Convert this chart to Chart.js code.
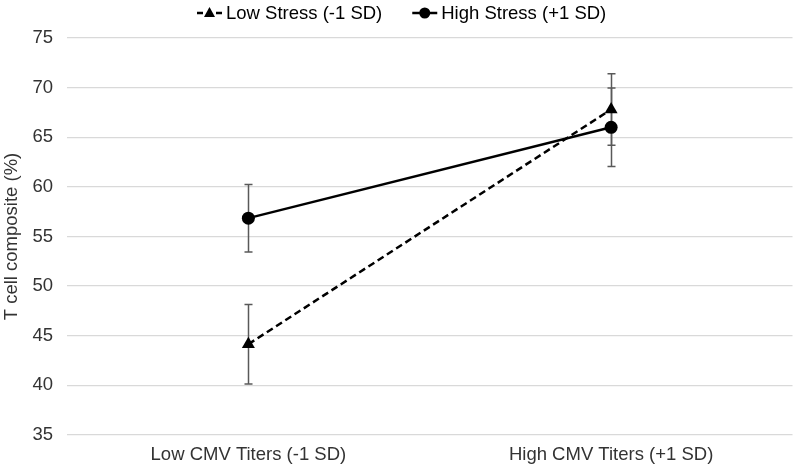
<!DOCTYPE html>
<html>
<head>
<meta charset="utf-8">
<script src="https://cdn.jsdelivr.net/npm/chart.js@4.4.1/dist/chart.umd.min.js"></script>
<style>
  html, body { margin: 0; padding: 0; background: #fff; }
  #wrap { width: 800px; height: 470px; }
</style>
</head>
<body>
<div id="wrap"><canvas id="chart"></canvas></div>
<script>
// data
const categories = ['Low CMV Titers (-1 SD)', 'High CMV Titers (+1 SD)'];
const lowStress = [44.15, 67.8];
const lowStressErr = [4.0, 3.6];
const highStress = [56.85, 66.0];
const highStressErr = [3.4, 3.95];
const yTicks = [35, 40, 45, 50, 55, 60, 65, 70, 75];

const FONT = '"Liberation Sans", Arial, sans-serif';
const FSIZE = 18.5;

// error bars, drawn before the lines so the markers sit on top
const errorBars = {
    id: 'errorBars',
    beforeDatasetsDraw(chart) {
        const ctx = chart.ctx;
        const y = chart.scales.y;
        ctx.save();
        ctx.strokeStyle = '#595959';
        ctx.lineWidth = 1.5;
        chart.data.datasets.forEach((ds, i) => {
            const meta = chart.getDatasetMeta(i);
            ds.errors.forEach((e, j) => {
                const px = Math.round(meta.data[j].x) + 0.5;
                const top = y.getPixelForValue(ds.data[j] + e);
                const bot = y.getPixelForValue(ds.data[j] - e);
                ctx.beginPath();
                ctx.moveTo(px, top); ctx.lineTo(px, bot);
                ctx.moveTo(px - 4, top); ctx.lineTo(px + 4, top);
                ctx.moveTo(px - 4, bot); ctx.lineTo(px + 4, bot);
                ctx.stroke();
            });
        });
        ctx.restore();
    }
};

// legend on top: line segment with marker, then the series name
const lineLegend = {
    id: 'lineLegend',
    afterDraw(chart) {
        const ctx = chart.ctx;
        const iconW = 25, gapText = 4, gapItem = 30, cy = 13;
        ctx.save();
        ctx.font = FSIZE + 'px ' + FONT;
        const items = chart.data.datasets.map(ds => ({ ds, w: ctx.measureText(ds.label).width }));
        let total = 0;
        items.forEach((it, i) => { total += iconW + gapText + it.w + (i ? gapItem : 0); });
        let x = Math.round(chart.width / 2 - total / 2) + 2;
        items.forEach((it, i) => {
            if (i) x += gapItem;
            const ds = it.ds;
            ctx.strokeStyle = '#000';
            ctx.lineWidth = 2.5;
            ctx.beginPath();
            if (ds.borderDash) {
                ctx.moveTo(x, cy); ctx.lineTo(x + 6, cy);
                ctx.moveTo(x + iconW - 6, cy); ctx.lineTo(x + iconW, cy);
            } else {
                ctx.moveTo(x, cy); ctx.lineTo(x + iconW, cy);
            }
            ctx.stroke();
            ctx.fillStyle = '#000';
            ctx.beginPath();
            const mx = x + iconW / 2;
            if (ds.pointStyle === 'triangle') {
                ctx.moveTo(mx, cy - 6); ctx.lineTo(mx + 5.5, cy + 4); ctx.lineTo(mx - 5.5, cy + 4);
            } else {
                ctx.arc(mx, cy, 5.5, 0, Math.PI * 2);
            }
            ctx.closePath();
            ctx.fill();
            x += iconW + gapText;
            ctx.textAlign = 'left';
            ctx.textBaseline = 'middle';
            ctx.fillText(ds.label, x, cy + 1);
            x += it.w;
        });
        ctx.restore();
    }
};

new Chart(document.getElementById('chart'), {
    type: 'line',
    data: {
        labels: categories,
        datasets: [{
            label: 'Low Stress (-1 SD)',
            data: lowStress,
            errors: lowStressErr,
            borderColor: '#000',
            backgroundColor: '#000',
            borderWidth: 2.5,
            borderDash: [7, 4],
            pointStyle: 'triangle',
            pointRadius: 7.5,
            pointBorderWidth: 0
        }, {
            label: 'High Stress (+1 SD)',
            data: highStress,
            errors: highStressErr,
            borderColor: '#000',
            backgroundColor: '#000',
            borderWidth: 2.5,
            pointStyle: 'circle',
            pointRadius: 6.5,
            pointBorderWidth: 0
        }]
    },
    options: {
        responsive: true,
        maintainAspectRatio: false,
        animation: false,
        layout: { padding: { left: 0, right: 4, top: 38, bottom: 0 } },
        scales: {
            x: {
                offset: true,
                afterFit: (axis) => { axis.height = 35; },
                grid: { display: false, drawTicks: false },
                border: { display: false },
                ticks: { color: '#333', font: { family: FONT, size: FSIZE }, padding: 9 }
            },
            y: {
                min: 35,
                max: 75,
                afterFit: (axis) => { axis.width = 67; },
                afterBuildTicks: (axis) => { axis.ticks = yTicks.map(v => ({ value: v })); },
                grid: { color: '#d9d9d9', lineWidth: 1.3, drawTicks: false },
                border: { display: false },
                ticks: { color: '#333', font: { family: FONT, size: FSIZE }, padding: 14 },
                title: {
                    display: true,
                    text: 'T cell composite (%)',
                    color: '#333',
                    font: { family: FONT, size: FSIZE },
                    padding: { top: 1, bottom: 0 }
                }
            }
        },
        plugins: {
            legend: { display: false },
            tooltip: { enabled: false }
        }
    },
    plugins: [errorBars, lineLegend]
});
</script>
</body>
</html>
